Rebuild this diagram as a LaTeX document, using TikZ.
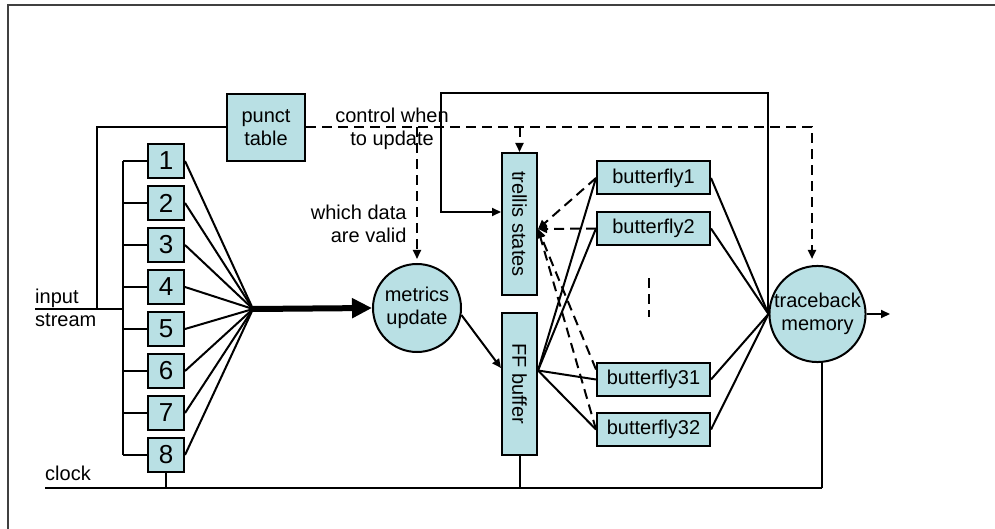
\documentclass[tikz,border=0pt]{standalone}
\usepackage{fontspec}
\setmainfont{Liberation Sans}
\usetikzlibrary{arrows.meta}
\definecolor{boxfill}{RGB}{185,224,228}

\begin{document}
\begin{tikzpicture}[x=1pt,y=1pt,
  font=\fontsize{20}{23}\selectfont,
  wire/.style={line width=2pt},
  arr/.style={wire,-{Triangle[length=9pt,width=8pt]}},
  dsh/.style={line width=2pt,dash pattern=on 10pt off 6pt},
  darr/.style={dsh,-{Triangle[length=9pt,width=8pt]}},
  blk/.style={draw,line width=2pt,fill=boxfill,inner sep=0pt,align=center},
  numbox/.style={blk,minimum width=36pt,minimum height=34pt,font=\fontsize{26}{28}\selectfont},
  bfly/.style={blk,minimum width=113pt,minimum height=33pt},
  vbox/.style={blk,minimum width=35pt,minimum height=142pt},
  disc/.style={blk,circle}
]
\useasboundingbox (0,0) rectangle (995,-529);

% outer frame (top and left edges)
\draw[line width=1.2pt,black!75] (8,-529) -- (8,-5) -- (995,-5);

% blocks
\node[blk,minimum width=78pt,minimum height=67pt] (punct) at (266,-127.5) {punct\\table};
\foreach \i in {1,...,8}
  \node[numbox] (n\i) at (166,{-161-42*(\i-1)}) {\i};
\node[disc,minimum size=88pt] (metrics) at (417,-308) {metrics\\update};
\node[vbox] (trellis) at (519.5,-224) {\rotatebox{-90}{trellis states}};
\node[vbox] (ff) at (519.5,-383.5) {\rotatebox{-90}{FF buffer}};
\node[bfly] (bf1)  at (653.5,-178)   {butterfly1};
\node[bfly] (bf2)  at (653.5,-228.5) {butterfly2};
\node[bfly] (bf31) at (653.5,-379.5) {butterfly31};
\node[bfly] (bf32) at (653.5,-429.5) {butterfly32};
\node[disc,minimum size=95pt] (tb) at (817.5,-314) {traceback\\memory};

% junction points
\coordinate (instart) at (35,-309);
\coordinate (bus) at (123,-309);
\coordinate (tap) at (97,-309);
\coordinate (fan) at (253,-309);
\coordinate (clkstart) at (45,-488);
\coordinate (clkend) at (822,-488);
\coordinate (loopc) at (441,-93);
\coordinate (out) at (890,-314);
\coordinate (ffo) at ([yshift=13pt]ff.east);
\coordinate (tsin) at ([yshift=-5pt]trellis.east);
\coordinate (dotsA) at (649,-278);
\coordinate (dotsB) at (649,-317);

% input stream bus
\draw[wire] (instart) -- (bus);
\draw[wire] (123,-161) -- (123,-455);
\foreach \i in {1,...,8}
  \draw[wire] (n\i.west) -- (n\i.west -| bus);
\draw[wire] (tap) |- (punct.west);

% fan-in to the wide bus
\foreach \i in {1,...,8}
  \draw[wire] (n\i.east) -- (fan);
\draw[line width=6pt,-{Triangle[length=20pt,width=19pt]}] (fan) -- (metrics.west);

% clock line
\draw[wire] (clkstart) -- (clkend);
\draw[wire] (n8.south) -- (n8.south |- clkstart);
\draw[wire] (ff.south) -- (ff.south |- clkstart);
\draw[wire] (tb.-85) -- (tb.-85 |- clkstart);

% control lines from the punct table
\draw[darr,shorten >=6pt] (punct.east) -| ([xshift=-5.5pt]tb.north);
\draw[darr,shorten >=4pt] (metrics.north |- punct.east) -- (metrics.north);
\draw[darr] (trellis.north |- punct.east) -- (trellis.north);

% metrics to FF buffer
\draw[arr] (metrics.-9) -- ([yshift=15.5pt]ff.west);

% FF buffer to butterflies
\foreach \b in {bf1,bf2,bf31,bf32}
  \draw[wire] (ffo) -- (\b.west);

% butterflies to traceback memory
\foreach \b in {bf1,bf2,bf31,bf32}
  \draw[wire] (\b.east) -- (tb.west);

% state feedback from butterflies to trellis states
\draw[darr] (bf1.west) -- (tsin);
\draw[darr] (bf2.west) -- (tsin);
\draw[darr] ([yshift=10pt]bf31.west) -- (tsin);
\draw[darr] (bf32.west) -- (tsin);
\draw[dsh] (dotsA) -- (dotsB);

% traceback loop back to trellis states
\draw[arr] (tb.west) |- (loopc) |- ([yshift=12pt]trellis.west);

% output
\draw[arr] (tb.east) -- (out);

% labels
\node[align=center] (lctl) at (392,-128.5) {control when\\to update};
\node[align=right,anchor=east] (lvalid) at (410,-224) {which data\\are valid};
\node[align=left,anchor=west,inner sep=0pt] (lin) at (35,-308) {input\\stream};
\node[anchor=base west,inner sep=0pt] (lclk) at (45,-480) {clock};
\end{tikzpicture}
\end{document}
